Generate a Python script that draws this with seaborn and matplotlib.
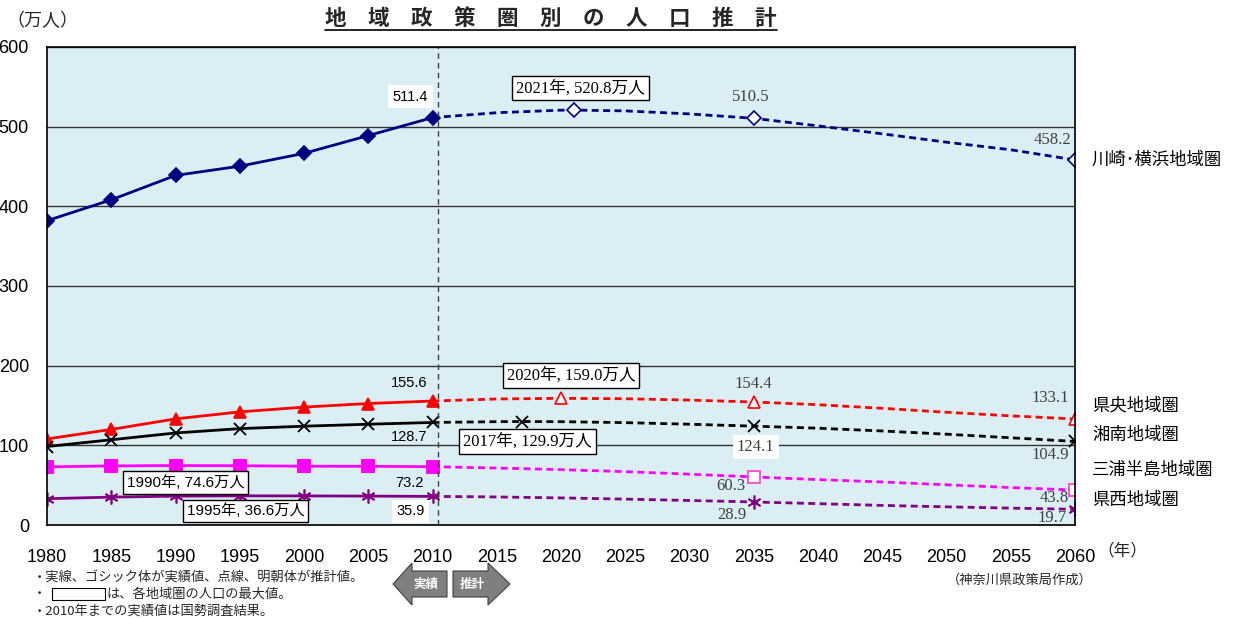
import matplotlib
matplotlib.use('Agg')
import matplotlib.pyplot as plt
from matplotlib.patches import Polygon, Rectangle
from matplotlib.lines import Line2D
import seaborn as sns
import pandas as pd

W, H = 1237, 618

# actual values (census)
years_act = [1980, 1985, 1990, 1995, 2000, 2005, 2010]
yokohama_act = [382.0, 408.2, 438.8, 450.4, 466.5, 488.8, 511.4]
kenou_act = [108.0, 120.0, 133.2, 142.0, 148.0, 152.5, 155.6]
shonan_act = [98.5, 107.0, 115.5, 121.0, 124.0, 126.5, 128.7]
miura_act = [73.0, 74.2, 74.6, 74.4, 73.8, 73.7, 73.2]
kensei_act = [33.0, 35.0, 36.2, 36.6, 36.5, 36.3, 35.9]

# projections
yokohama_proj_years = [2010, 2015, 2020, 2021, 2025, 2030, 2035, 2040, 2045, 2050, 2055, 2060]
yokohama_proj = [511.4, 517.5, 520.7, 520.8, 519.8, 516.0, 510.5, 501.0, 491.0, 480.5, 471.0, 458.2]
kenou_proj_years = [2010, 2015, 2020, 2025, 2030, 2035, 2040, 2045, 2050, 2055, 2060]
kenou_proj = [155.6, 158.2, 159.0, 158.5, 156.8, 154.4, 151.0, 146.5, 141.5, 137.0, 133.1]
shonan_proj_years = [2010, 2015, 2017, 2020, 2025, 2030, 2035, 2040, 2045, 2050, 2055, 2060]
shonan_proj = [128.7, 129.7, 129.9, 129.7, 128.5, 126.5, 124.1, 121.5, 118.0, 114.0, 109.5, 104.9]
miura_proj_years = [2010, 2015, 2020, 2025, 2030, 2035, 2040, 2045, 2050, 2055, 2060]
miura_proj = [73.2, 71.5, 69.5, 67.0, 63.8, 60.3, 57.0, 54.0, 50.5, 47.0, 43.8]
kensei_proj_years = [2010, 2015, 2020, 2025, 2030, 2035, 2040, 2045, 2050, 2055, 2060]
kensei_proj = [35.9, 35.2, 34.0, 32.5, 30.8, 28.9, 26.8, 24.6, 22.8, 21.2, 19.7]

region_names = ['川崎･横浜地域圏', '県央地域圏', '湘南地域圏', '三浦半島地域圏', '県西地域圏']
peak_years = [2021, 2020, 2017, 1990, 1995]
label_years = [2035, 2060]

sns.set_theme(style='white')
plt.rcParams['font.family'] = ['Liberation Sans', 'Noto Sans CJK JP', 'DejaVu Sans']
GOTHIC = ['Liberation Sans', 'Noto Sans CJK JP', 'DejaVu Sans']
MINCHO = ['Liberation Serif', 'Noto Sans CJK JP', 'DejaVu Sans']

fig = plt.figure(figsize=(W / 100, H / 100), dpi=100)
ax = fig.add_axes([47 / W, 1 - 525 / H, (1075 - 47) / W, (525 - 47) / H])
ax.set_facecolor('#DAEEF3')


def fpos(x, y):
    return x / W, 1 - y / H


# style per region
styles = [
    dict(color='#000080', marker='D', ms=7, edge='#000080', mew=1.2),
    dict(color='#FF0000', marker='^', ms=8, edge='#FF0000', mew=1.2),
    dict(color='#000000', marker='x', ms=8, edge='#000000', mew=1.3),
    dict(color='#FF00FF', marker='s', ms=8, edge='#FF55CC', mew=1.4),
    dict(color='#800080', marker=(6, 2, 0), ms=10, edge='#800080', mew=1.2),
]

actual = [yokohama_act, kenou_act, shonan_act, miura_act, kensei_act]
proj_years = [yokohama_proj_years, kenou_proj_years, shonan_proj_years, miura_proj_years, kensei_proj_years]
proj = [yokohama_proj, kenou_proj, shonan_proj, miura_proj, kensei_proj]

for st, act, py, pv, peak in zip(styles, actual, proj_years, proj, peak_years):
    c = st['color']
    filled = st['marker'] in ('D', '^', 's')
    sns.lineplot(x=years_act, y=act, ax=ax, color=c, lw=2, legend=False,
                 marker=st['marker'], markersize=st['ms'], markeredgewidth=st['mew'],
                 markeredgecolor=st['edge'] if not filled else c,
                 markerfacecolor=c if filled else 'none')
    marks = [i for i, y in enumerate(py) if y in label_years or y == peak]
    sns.lineplot(x=py, y=pv, ax=ax, color=c, lw=2, linestyle=(0, (2.5, 1.6)), legend=False,
                 marker=st['marker'], markersize=st['ms'], markeredgewidth=st['mew'],
                 markeredgecolor=st['edge'], markerfacecolor='white' if filled else 'none',
                 markevery=marks)

ax.axvline(2010.45, color='#404040', lw=1, linestyle=(0, (4, 3)))

ax.set_xlim(1980, 2060)
ax.set_ylim(0, 600)
ax.set_xticks(range(1980, 2061, 5))
ax.set_yticks(range(0, 601, 100))
ax.yaxis.grid(True, color='#333333', lw=1)
ax.xaxis.grid(False)
ax.tick_params(axis='x', direction='in', length=6, width=1, color='black', pad=17, labelsize=13)
ax.tick_params(axis='y', length=0, pad=13, labelsize=13)
for lab in ax.get_xticklabels() + ax.get_yticklabels():
    lab.set_color('black')
for sp in ax.spines.values():
    sp.set_color('black')
    sp.set_linewidth(1.2)
ax.set_xlabel('')
ax.set_ylabel('')

# value labels: (series index, year, dx, dy, boxed)
act_labels = [(0, 2010, -22, 21, True), (1, 2010, -23, 18, False), (2, 2010, -23, -15, False),
              (3, 2010, -23, -16, False), (4, 2010, -22, -15, True)]
for i, yr, dx, dy, boxed in act_labels:
    v = actual[i][years_act.index(yr)]
    bb = dict(boxstyle='square,pad=0.3', fc='white', ec='none') if boxed else None
    ax.annotate(f'{v:.1f}', xy=(yr, v), xytext=(dx, dy), textcoords='offset pixels',
                ha='center', va='center', fontsize=10.5, family=GOTHIC, color='black', bbox=bb)

proj_labels = [(0, 2035, -3, 21, False), (0, 2060, -23, 20, False),
               (1, 2035, 0, 18, False), (1, 2060, -25, 21, False),
               (2, 2035, 2, -21, True), (2, 2060, -25, -14, False),
               (3, 2035, -23, -9, False), (3, 2060, -21, -8, False),
               (4, 2035, -22, -13, False), (4, 2060, -23, -9, False)]
for i, yr, dx, dy, boxed in proj_labels:
    v = proj[i][proj_years[i].index(yr)]
    bb = dict(boxstyle='square,pad=0.25', fc='white', ec='none') if boxed else None
    ax.annotate(f'{v:.1f}', xy=(yr, v), xytext=(dx, dy), textcoords='offset pixels',
                ha='center', va='center', fontsize=12, family=MINCHO, color='#404040', bbox=bb)

# peak boxes
peak_offsets = [(7, 22), (10, 23), (5, -20), (10, -17), (6, -15)]
for i, (peak, (dx, dy)) in enumerate(zip(peak_years, peak_offsets)):
    if peak in years_act:
        v = actual[i][years_act.index(peak)]
        fam, fs = GOTHIC, 11
    else:
        v = proj[i][proj_years[i].index(peak)]
        fam, fs = MINCHO, 12
    ax.annotate(f'{peak}年, {v:.1f}万人', xy=(peak, v), xytext=(dx, dy), textcoords='offset pixels',
                ha='center', va='center', fontsize=fs, family=fam, color='black',
                bbox=dict(boxstyle='square,pad=0.25', fc='white', ec='black', lw=1))

# region names on the right
name_y = [160, 405, 435, 470, 500]
for name, y in zip(region_names, name_y):
    fig.text(*fpos(1092, y), name, ha='left', va='center', fontsize=12.5,
             family=['Noto Sans CJK JP'], color='black')

# title and axis units
title = fig.text(*fpos(551, 18), '　'.join('地域政策圏別の人口推計'), ha='center', va='center',
                 fontsize=15.5, fontweight='bold', family=['Noto Sans CJK JP'])
fig.text(*fpos(6, 21), '（万人）', ha='left', va='center', fontsize=13, family=['Noto Sans CJK JP'])
fig.text(*fpos(1097, 551), '（年）', ha='left', va='center', fontsize=12, family=['Noto Sans CJK JP'])

# footnotes
fig.text(*fpos(33, 578), '・実線、ゴシック体が実績値、点線、明朝体が推計値。', ha='left', va='center',
         fontsize=9.5, family=['Noto Sans CJK JP'])
fig.text(*fpos(33, 594), '・', ha='left', va='center', fontsize=9.5, family=['Noto Sans CJK JP'])
fig.add_artist(Rectangle(fpos(52, 600), 53 / W, 12 / H, transform=fig.transFigure,
                         fc='white', ec='black', lw=0.8))
fig.text(*fpos(107, 594), 'は、各地域圏の人口の最大値。', ha='left', va='center',
         fontsize=9.5, family=['Noto Sans CJK JP'])
fig.text(*fpos(33, 611), '・2010年までの実績値は国勢調査結果。', ha='left', va='center',
         fontsize=9.5, family=['Noto Sans CJK JP'])
fig.text(*fpos(1020, 580), '（神奈川県政策局作成）', ha='center', va='center',
         fontsize=9.5, family=['Noto Sans CJK JP'])

# actual / projection arrows
left_arrow = [(393, 584), (412, 563), (412, 571), (447, 571), (447, 597), (412, 597), (412, 605)]
right_arrow = [(453, 571), (488, 571), (488, 563), (510, 584), (488, 605), (488, 597), (453, 597)]
for pts in (left_arrow, right_arrow):
    fig.add_artist(Polygon([fpos(x, y) for x, y in pts], closed=True, transform=fig.transFigure,
                           fc='#7F7F7F', ec='#404040', lw=0.8))
fig.text(*fpos(426, 584), '実績', ha='center', va='center', fontsize=9, color='white',
         fontweight='bold', family=['Noto Sans CJK JP'])
fig.text(*fpos(472, 584), '推計', ha='center', va='center', fontsize=9, color='white',
         fontweight='bold', family=['Noto Sans CJK JP'])

# underline the title
fig.canvas.draw()
bb = title.get_window_extent(renderer=fig.canvas.get_renderer())
fig.add_artist(Line2D([bb.x0 / W, bb.x1 / W], [(bb.y0 - 1) / H, (bb.y0 - 1) / H],
                      transform=fig.transFigure, color='black', lw=1.2))

fig.savefig('out.png', dpi=100)
